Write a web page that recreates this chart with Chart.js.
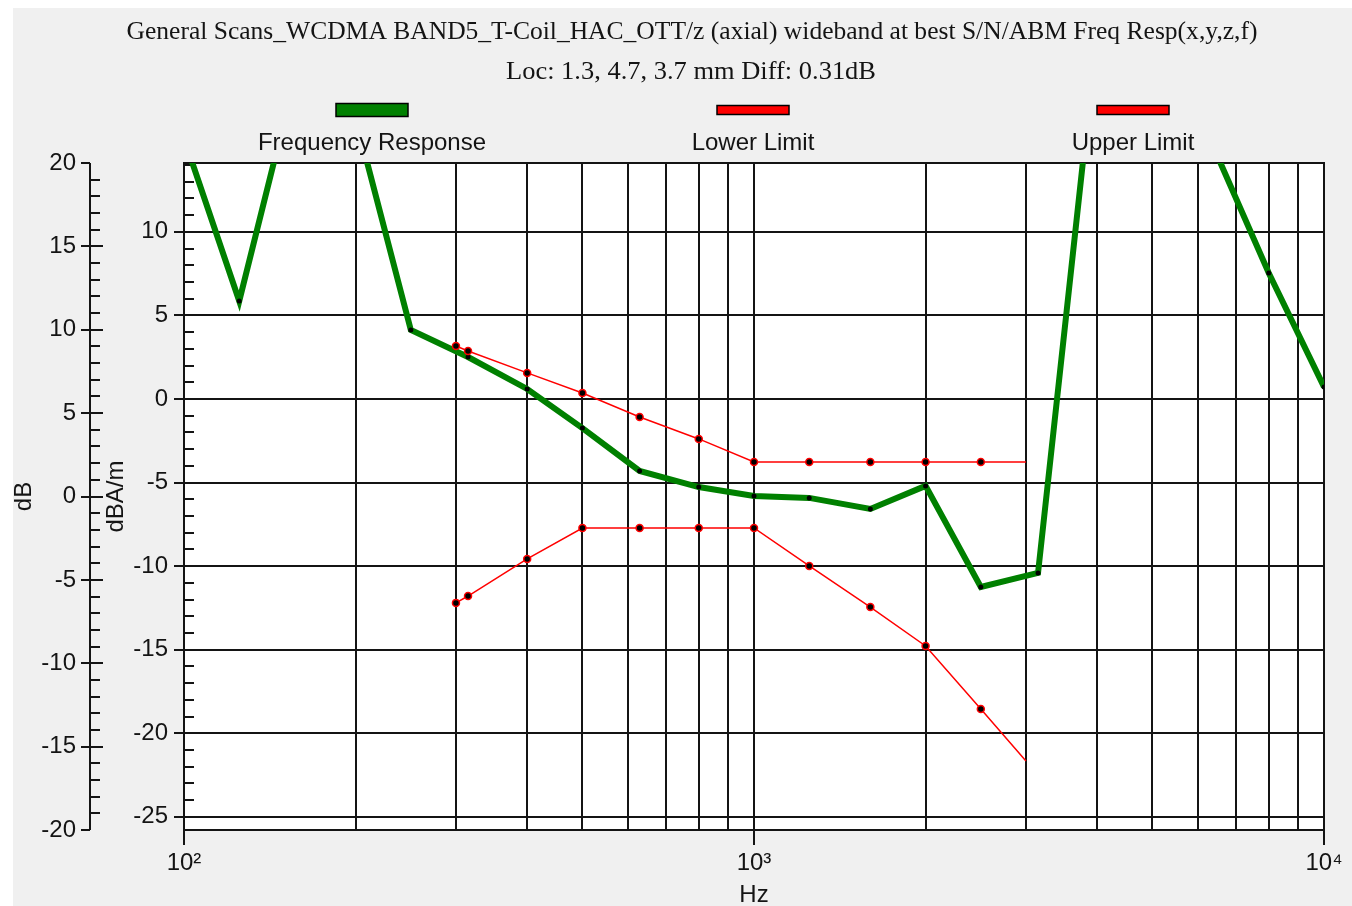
<!DOCTYPE html>
<html>
<head>
<meta charset="utf-8">
<script src="https://cdn.jsdelivr.net/npm/chart.js@4.4.1/dist/chart.umd.min.js"></script>
<style>
  html, body { margin: 0; padding: 0; background: #fff; }
  canvas { display: block; }
</style>
</head>
<body>
<canvas id="freqResp" width="1352" height="906"></canvas>
<script>
// values (dBA/m)
const freqs = [100, 125, 160, 200, 250, 315, 400, 500, 630, 800, 1000, 1250, 1600, 2000, 2500, 3150, 4000, 5000, 6300, 8000, 10000];
const response = [15.6, 5.86, 20.5, 16.8, 4.13, 2.51, 0.6, -1.74, -4.31, -5.27, -5.8, -5.92, -6.58, -5.2, -11.25, -10.41, 22, 20, 15.6, 7.54, 0.72];
const limitFreqs = [300, 315, 400, 500, 630, 800, 1000, 1250, 1600, 2000, 2500, 3000];
const lowerLimit = [-12.2, -11.79, -9.57, -7.72, -7.72, -7.72, -7.72, -9.99, -12.45, -14.78, -18.55, -21.66];
const upperLimit = [3.17, 2.87, 1.56, 0.36, -1.08, -2.39, -3.77, -3.77, -3.77, -3.77, -3.77, -3.77];

// axes
const gridFreqs = [100, 200, 300, 400, 500, 600, 700, 800, 900,
    1000, 2000, 3000, 4000, 5000, 6000, 7000, 8000, 9000, 10000];
const decadeLabels = { 100: '10²', 1000: '10³', 10000: '10⁴' };
const dbRange = [-20, 20];
const dbamRange = [-25.79, 14.12];

const titleLines = [
    'General Scans_WCDMA BAND5_T-Coil_HAC_OTT/z (axial) wideband at best S/N/ABM Freq Resp(x,y,z,f)',
    'Loc: 1.3, 4.7, 3.7 mm Diff: 0.31dB',
];

const sans = '"Liberation Sans", Arial, sans-serif';
const ink = '#141414';

function toPoints(xs, ys) {
    return xs.map((x, i) => ({ x: x, y: ys[i] }));
}
function isFive(v) {
    return Math.abs(v % 5) < 1e-6;
}

const decorPlugin = {
    id: 'decor',
    beforeDraw(chart) {
        const ctx = chart.ctx;
        const a = chart.chartArea;
        ctx.save();
        ctx.fillStyle = '#ffffff';
        ctx.fillRect(0, 0, chart.width, chart.height);
        ctx.fillStyle = '#f0f0f0';
        ctx.fillRect(13, 8, chart.width - 13, chart.height - 8);
        ctx.fillStyle = '#ffffff';
        ctx.fillRect(a.left, a.top, a.right - a.left, a.bottom - a.top);
        ctx.restore();
    },
    beforeDatasetsDraw(chart) {
        const ctx = chart.ctx;
        const a = chart.chartArea;
        const yIn = chart.scales.y;
        const yOut = chart.scales.yDb;
        ctx.save();
        ctx.strokeStyle = ink;
        ctx.lineWidth = 2;
        // plot frame
        ctx.strokeRect(a.left, a.top, a.right - a.left, a.bottom - a.top);

        // outer dB axis
        const ox = Math.round(yOut.right);
        ctx.beginPath();
        ctx.moveTo(ox, yOut.getPixelForValue(dbRange[1]));
        ctx.lineTo(ox, yOut.getPixelForValue(dbRange[0]));
        for (let v = dbRange[0]; v <= dbRange[1]; v++) {
            const py = Math.round(yOut.getPixelForValue(v));
            if (v === dbRange[0] || v === dbRange[1]) {
                ctx.moveTo(ox - 9, py); ctx.lineTo(ox, py);
            } else if (isFive(v)) {
                ctx.moveTo(ox - 9, py); ctx.lineTo(ox + 13, py);
            } else {
                ctx.moveTo(ox, py); ctx.lineTo(ox + 10, py);
            }
        }
        ctx.stroke();

        // inner dBA/m axis
        const ix = a.left;
        ctx.beginPath();
        for (let v = Math.ceil(dbamRange[0]); v <= Math.floor(dbamRange[1]); v++) {
            const py = Math.round(yIn.getPixelForValue(v));
            if (isFive(v)) {
                ctx.moveTo(ix - 10, py); ctx.lineTo(ix + 10, py);
            } else {
                ctx.moveTo(ix, py); ctx.lineTo(ix + 10, py);
            }
        }
        ctx.stroke();
        ctx.restore();
    },
    afterDraw(chart) {
        const ctx = chart.ctx;
        ctx.save();
        ctx.fillStyle = ink;
        ctx.textAlign = 'center';
        ctx.textBaseline = 'middle';

        // two title lines, fitted to the reference width
        const titleSpots = [[692, 32, 1131], [691, 72, 370]];
        ctx.font = '26px "Liberation Serif", "Times New Roman", serif';
        titleLines.forEach((t, i) => {
            const [cx, cy, w] = titleSpots[i];
            const m = ctx.measureText(t).width;
            ctx.save();
            ctx.translate(cx, cy);
            ctx.scale(w / m, 1);
            ctx.fillText(t, 0, 0);
            ctx.restore();
        });

        // legend: swatch above label
        const legendX = [372, 753, 1133];
        const swatchH = [13, 9, 9];
        ctx.font = '24px ' + sans;
        chart.data.datasets.forEach((ds, i) => {
            const cx = legendX[i];
            ctx.fillStyle = ds.borderColor;
            ctx.fillRect(cx - 36, 110 - swatchH[i] / 2, 72, swatchH[i]);
            ctx.strokeStyle = '#000';
            ctx.lineWidth = 1.5;
            ctx.strokeRect(cx - 36, 110 - swatchH[i] / 2, 72, swatchH[i]);
            ctx.fillStyle = ink;
            ctx.fillText(ds.label, cx, 143);
        });
        ctx.restore();
    },
};

new Chart(document.getElementById('freqResp'), {
    type: 'line',
    data: {
        datasets: [
            {
                label: 'Frequency Response',
                data: toPoints(freqs, response),
                borderColor: '#008000',
                backgroundColor: '#008000',
                borderWidth: 6,
                pointRadius: 2.5,
                pointBorderWidth: 0,
                pointBackgroundColor: '#000',
                yAxisID: 'y',
                order: 2,
                clip: 0,
            },
            {
                label: 'Lower Limit',
                data: toPoints(limitFreqs, lowerLimit),
                borderColor: '#ff0000',
                backgroundColor: '#ff0000',
                borderWidth: 1.5,
                pointRadius: (c) => (c.dataIndex === limitFreqs.length - 1 ? 0 : 3.5),
                pointBorderWidth: 1.5,
                pointBorderColor: '#ff0000',
                pointBackgroundColor: '#000',
                yAxisID: 'y',
                order: 1,
                clip: 0,
            },
            {
                label: 'Upper Limit',
                data: toPoints(limitFreqs, upperLimit),
                borderColor: '#ff0000',
                backgroundColor: '#ff0000',
                borderWidth: 1.5,
                pointRadius: (c) => (c.dataIndex === limitFreqs.length - 1 ? 0 : 3.5),
                pointBorderWidth: 1.5,
                pointBorderColor: '#ff0000',
                pointBackgroundColor: '#000',
                yAxisID: 'y',
                order: 1,
                clip: 0,
            },
        ],
    },
    options: {
        responsive: false,
        animation: false,
        events: [],
        layout: { padding: { top: 163, right: 28, bottom: 0, left: 0 } },
        plugins: {
            legend: { display: false },
            title: { display: false },
            tooltip: { enabled: false },
        },
        scales: {
            x: {
                type: 'logarithmic',
                position: 'bottom',
                min: 100,
                max: 10000,
                afterBuildTicks: (s) => { s.ticks = gridFreqs.map((v) => ({ value: v })); },
                afterFit: (s) => { s.height = 76; },
                border: { display: false },
                grid: {
                    color: ink,
                    lineWidth: 2,
                    tickLength: 15,
                    tickWidth: 2,
                    tickColor: (c) => (c.tick && decadeLabels[c.tick.value] ? ink : 'rgba(0,0,0,0)'),
                },
                ticks: {
                    autoSkip: false,
                    maxRotation: 0,
                    padding: 4,
                    color: ink,
                    font: { family: sans, size: 24 },
                    callback: (v) => decadeLabels[v] || '',
                },
                title: {
                    display: true,
                    text: 'Hz',
                    color: ink,
                    font: { family: sans, size: 24, lineHeight: 0.9 },
                    padding: { top: 0, bottom: 0 },
                },
            },
            yDb: {
                type: 'linear',
                position: 'left',
                weight: 1,
                min: dbRange[0],
                max: dbRange[1],
                afterFit: (s) => { s.width = 90; },
                border: { display: false },
                grid: { display: false, drawTicks: false },
                ticks: {
                    stepSize: 5,
                    autoSkip: false,
                    padding: 14,
                    color: ink,
                    font: { family: sans, size: 24 },
                },
                title: {
                    display: true,
                    text: 'dB',
                    color: ink,
                    font: { family: sans, size: 24 },
                    padding: { top: 10, bottom: 0 },
                },
            },
            y: {
                type: 'linear',
                position: 'left',
                weight: 0,
                min: dbamRange[0],
                max: dbamRange[1],
                afterFit: (s) => { s.width = 94; },
                border: { display: false },
                grid: {
                    drawTicks: false,
                    lineWidth: 2,
                    color: (c) => (c.tick && isFive(c.tick.value) ? ink : 'rgba(0,0,0,0)'),
                },
                ticks: {
                    stepSize: 1,
                    includeBounds: false,
                    autoSkip: false,
                    padding: 16,
                    color: ink,
                    font: { family: sans, size: 24 },
                    callback: (v) => (isFive(v) ? String(v) : ''),
                },
                title: {
                    display: true,
                    text: 'dBA/m',
                    color: ink,
                    font: { family: sans, size: 24 },
                    padding: { top: 12, bottom: 0 },
                },
            },
        },
    },
    plugins: [decorPlugin],
});
</script>
</body>
</html>
